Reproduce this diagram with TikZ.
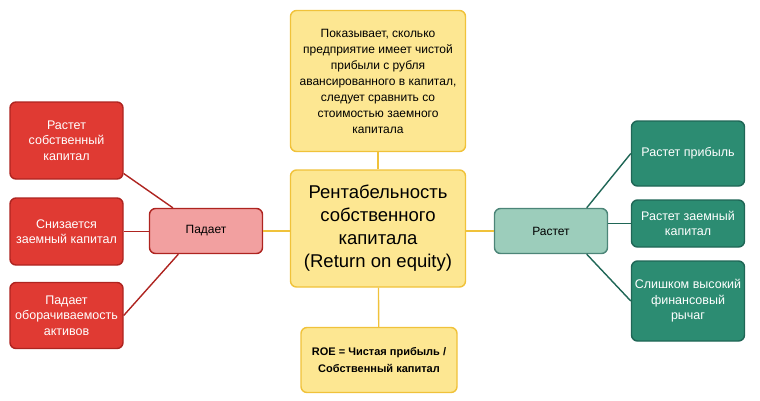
\documentclass[tikz,border=0pt]{standalone}
\usepackage{fontspec}
\setmainfont{Liberation Sans}
\usetikzlibrary{calc}

\definecolor{redfill}{HTML}{E03A33}
\definecolor{redline}{HTML}{AE2420}
\definecolor{pinkfill}{HTML}{F2A0A0}
\definecolor{yelfill}{HTML}{FDE792}
\definecolor{yelline}{HTML}{F0C23A}
\definecolor{grnfill}{HTML}{2C8C72}
\definecolor{grnline}{HTML}{1F6656}
\definecolor{ltgrnfill}{HTML}{9CCDBB}

\begin{document}
\begin{tikzpicture}[x=1pt,y=-1pt,
    box/.style={rectangle,rounded corners=6pt,line width=1.4pt,align=center,inner sep=2pt},
    redbox/.style={box,fill=redfill,draw=redline,text=white,font=\fontsize{12.5}{15.5}\selectfont,minimum width=113pt},
    grnbox/.style={box,fill=grnfill,draw=grnline,text=white,font=\fontsize{12.5}{15.5}\selectfont,minimum width=113pt},
    yelbox/.style={box,fill=yelfill,draw=yelline},
    redlink/.style={redline,line width=1.4pt},
    grnlink/.style={grnline,line width=1.4pt},
    yellink/.style={yelline,line width=1.4pt}]

    \useasboundingbox (0,0) rectangle (760,400);

    % central column
    \node[yelbox,minimum width=175pt,minimum height=141pt,font=\fontsize{12}{16}\selectfont] (note) at (378,81)
      {Показывает, сколько\\предприятие имеет чистой\\прибыли с рубля\\авансированного в капитал,\\следует сравнить со\\стоимостью заемного\\капитала};
    \node[yelbox,minimum width=175pt,minimum height=117pt,font=\fontsize{18.5}{23}\selectfont] (roe) at (378,228.5)
      {Рентабельность\\собственного\\капитала\\(Return on equity)};
    \node[yelbox,minimum width=156pt,minimum height=65pt,font=\bfseries\fontsize{11}{17}\selectfont] (formula) at (379,360)
      {ROE = Чистая прибыль /\\Собственный капитал};

    % left side
    \node[box,fill=pinkfill,draw=redline,minimum width=113pt,minimum height=45pt,font=\fontsize{12}{15}\selectfont] (fall) at (206,231) {Падает};
    \node[redbox,minimum height=77pt] (eqgrow) at (66.5,140.5) {Растет\\собственный\\капитал};
    \node[redbox,minimum height=67pt] (debtfall) at (66.5,231.5) {Снизается\\заемный капитал};
    \node[redbox,minimum height=66pt] (turnover) at (66.5,315.5) {Падает\\оборачиваемость\\активов};

    % right side
    \node[box,fill=ltgrnfill,draw=grnline!80,minimum width=113pt,minimum height=45pt,font=\fontsize{12}{15}\selectfont] (grow) at (551,231) {Растет};
    \node[grnbox,minimum height=65pt] (profit) at (688,153.5) {Растет прибыль};
    \node[grnbox,minimum height=47pt] (debtgrow) at (688,223.5) {Растет заемный\\капитал};
    \node[grnbox,minimum height=80pt] (leverage) at (688,301) {Слишком высокий\\финансовый\\рычаг};

    % draw links
    \draw[yellink] (note) -- (roe);
    \draw[yellink] (roe) -- (formula);
    \draw[yellink] (fall.east) -- (fall.east -| roe.west);
    \draw[yellink] (grow.west) -- (grow.west -| roe.east);

    \draw[redlink] (eqgrow.-30) -- (fall.145);
    \draw[redlink] (debtfall.east) -- (debtfall.east -| fall.west);
    \draw[redlink] (turnover.east) -- (fall.220);

    \draw[grnlink] (grow.33) -- (profit.west);
    \draw[grnlink] (debtgrow.west) -- (debtgrow.west -| grow.east);
    \draw[grnlink] (grow.-33) -- (leverage.west);

\end{tikzpicture}
\end{document}
